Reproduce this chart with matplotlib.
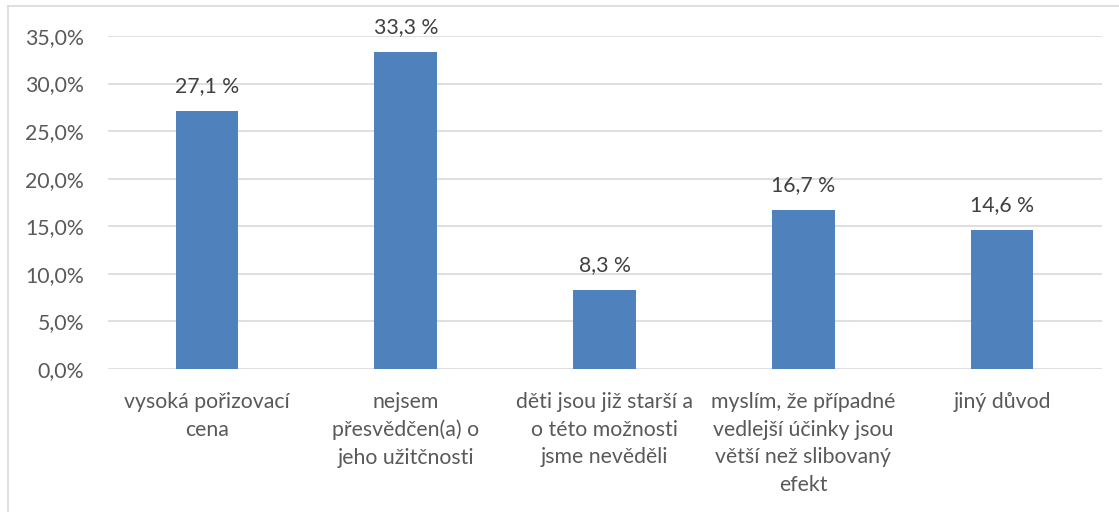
import matplotlib
matplotlib.use("Agg")
import matplotlib.pyplot as plt
from matplotlib.lines import Line2D
from matplotlib.ticker import FuncFormatter

categories = [
    "vysoká pořizovací\ncena",
    "nejsem\npřesvědčen(a) o\njeho užitčnosti",
    "děti jsou již starší a\no této možnosti\njsme nevěděli",
    "myslím, že případné\nvedlejší účinky jsou\nvětší než slibovaný\nefekt",
    "jiný důvod",
]
values = [27.1, 33.3, 8.3, 16.7, 14.6]
y_ticks = [0, 5, 10, 15, 20, 25, 30, 35]

TEXT = "#595959"
BAR = "#4F81BD"
GRID = "#D9D9D9"
FS = 15.3
plt.rcParams["font.family"] = ["Lato", "DejaVu Sans"]

W, H = 1119, 512
fig = plt.figure(figsize=(W / 100, H / 100), dpi=100)
ax = fig.add_axes([107.5 / W, 1 - 369 / H, (1101.5 - 107.5) / W, (369 - 36) / H])

x = range(len(values))
ax.bar(x, values, width=0.315, color=BAR, zorder=3)
for xi, v in zip(x, values):
    ax.annotate(f"{v:.1f} %".replace(".", ","), (xi, v), xytext=(0, 11),
                textcoords="offset points", ha="center", va="bottom",
                fontsize=FS, color="#404040")

ax.set_xlim(-0.5, len(values) - 0.5)
ax.set_ylim(0, 35)
ax.set_yticks(y_ticks)
ax.yaxis.set_major_formatter(FuncFormatter(lambda v, p: f"{v:.1f}%".replace(".", ",")))
ax.set_xticks(list(x))
ax.set_xticklabels(categories, fontsize=FS, color=TEXT, linespacing=1.48)
ax.tick_params(axis="y", labelsize=FS, labelcolor=TEXT, length=0, pad=17)
ax.tick_params(axis="x", length=0, pad=16.5)
ax.grid(axis="y", color=GRID, linewidth=1.2, zorder=0)
for s in ax.spines.values():
    s.set_visible(False)

# outer chart border (top and left only visible)
fig.add_artist(Line2D([8 / W, 1], [1 - 6 / H, 1 - 6 / H], color=GRID, lw=1.2, transform=fig.transFigure))
fig.add_artist(Line2D([8 / W, 8 / W], [0, 1 - 6 / H], color=GRID, lw=1.2, transform=fig.transFigure))

fig.savefig("out.png", dpi=100)
